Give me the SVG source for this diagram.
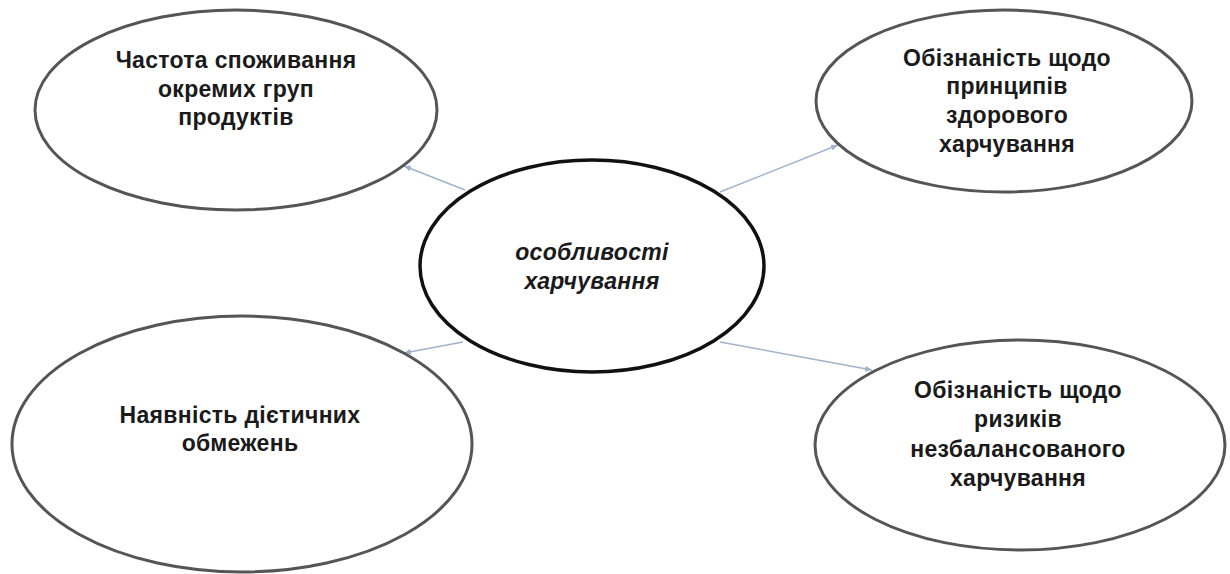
<svg xmlns="http://www.w3.org/2000/svg" width="1230" height="574" viewBox="0 0 1230 574">
<style>
.outer{fill:#fff;stroke:#555;stroke-width:3}
.center{fill:#fff;stroke:#111;stroke-width:3.5}
.t{font-family:"Liberation Sans",Arial,sans-serif;font-weight:bold;font-size:23px;letter-spacing:0.3px;fill:#1a1a1a;text-anchor:middle}
.ti{font-style:italic}
.conn{stroke:#9fb4cc;stroke-width:1.5;fill:none;marker-end:url(#ah)}
</style>
<defs>
<marker id="ah" markerWidth="8" markerHeight="8" refX="7" refY="4" orient="auto" markerUnits="userSpaceOnUse">
<path d="M0,1 L7,4 L0,7 z" fill="#9fb4cc"/>
</marker>
</defs>
<rect width="1230" height="574" fill="#fff"/>
<g id="connectors">
<line class="conn" x1="465" y1="190" x2="404" y2="166"/>
<line class="conn" x1="720" y1="192" x2="838" y2="145"/>
<line class="conn" x1="463" y1="342" x2="404" y2="353"/>
<line class="conn" x1="720" y1="342" x2="872" y2="370"/>
</g>
<g id="node-frequency">
<ellipse class="outer" cx="236" cy="110" rx="201" ry="100"/>
<text class="t" x="236" y="68">Частота споживання</text>
<text class="t" x="236" y="97">окремих груп</text>
<text class="t" x="236" y="125">продуктів</text>
</g>
<g id="node-principles">
<ellipse class="outer" cx="1004" cy="101" rx="188" ry="91"/>
<text class="t" x="1007" y="66">Обізнаність щодо</text>
<text class="t" x="1007" y="94">принципів</text>
<text class="t" x="1007" y="123">здорового</text>
<text class="t" x="1007" y="152">харчування</text>
</g>
<g id="node-center">
<ellipse class="center" cx="592" cy="266" rx="172" ry="106"/>
<text class="t ti" x="592" y="260">особливості</text>
<text class="t ti" x="592" y="289">харчування</text>
</g>
<g id="node-diet">
<ellipse class="outer" cx="242" cy="444" rx="230" ry="128"/>
<text class="t" x="240" y="423">Наявність дієтичних</text>
<text class="t" x="240" y="451">обмежень</text>
</g>
<g id="node-risks">
<ellipse class="outer" cx="1020" cy="445" rx="205" ry="105"/>
<text class="t" x="1018" y="398">Обізнаність щодо</text>
<text class="t" x="1018" y="427">ризиків</text>
<text class="t" x="1018" y="457">незбалансованого</text>
<text class="t" x="1018" y="486">харчування</text>
</g>
</svg>
